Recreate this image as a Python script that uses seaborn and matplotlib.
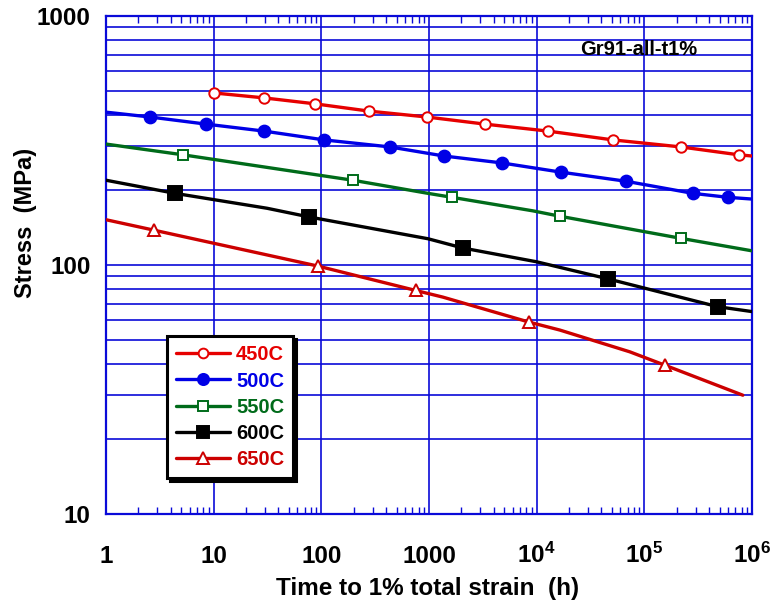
import matplotlib
matplotlib.use('Agg')
import matplotlib.pyplot as plt
from matplotlib.lines import Line2D
from matplotlib.ticker import FixedLocator, LogLocator, NullFormatter
import seaborn as sns

# ---------------- data ----------------
series_names = ['450C', '500C', '550C', '600C', '650C']
series_colors = ['#e60000', '#0000e6', '#006b1a', '#000000', '#cc0000']

# marker points (time h, stress MPa)
t450 = [10, 29.3, 87, 277, 955, 3300, 12700, 51000, 218000, 754000]
s450 = [491, 469, 444, 415, 393, 368, 345, 318, 298, 277]
t500 = [2.56, 8.48, 29.3, 106, 433, 1375, 4750, 16800, 67300, 282000, 596000]
s500 = [393, 368, 345, 318, 298, 274, 257, 236, 217, 194, 187]
t550 = [5.19, 196, 1633, 16400, 218000]
s550 = [277, 219, 187, 157, 128]
t600 = [4.37, 76.7, 2065, 45800, 481000]
s600 = [194, 156, 117, 88, 68]
t650 = [2.79, 93, 755, 8470, 155000]
s650 = [138, 99, 79, 59, 39.6]

# fitted curve points
curve450_t = [10, 29.3, 87, 277, 955, 3300, 12700, 51000, 218000, 754000, 1e6]
curve450_s = [491, 469, 444, 415, 393, 368, 345, 318, 298, 277, 274]
curve500_t = [1, 2.56, 8.48, 29.3, 106, 433, 1375, 4750, 16800, 67300, 282000, 596000, 1e6]
curve500_s = [411, 393, 368, 345, 318, 298, 274, 257, 236, 217, 194, 187, 184]
curve550_t = [1, 5.19, 196, 977, 1633, 9220, 16400, 218000, 1e6]
curve550_s = [306, 277, 219, 194, 187, 165, 157, 128, 114]
curve600_t = [1, 4.37, 31.3, 76.7, 977, 2065, 10000, 45800, 481000, 1e6]
curve600_s = [219, 194, 169, 156, 127.5, 117, 103, 88, 68, 65]
curve650_t = [1, 2.79, 93, 755, 1346, 8470, 16400, 73300, 155000, 822000]
curve650_s = [152, 138, 99, 79, 74.3, 59, 54.8, 44.8, 39.6, 30]

x_ticks = [1, 10, 100, 1000, 1e4, 1e5, 1e6]
x_ticklabels = ['1', '10', '100', '1000', r'$10^{4}$', r'$10^{5}$', r'$10^{6}$']
y_ticks = [10, 100, 1000]
y_ticklabels = ['10', '100', '1000']

# ---------------- style ----------------
sns.set_theme(style='white')
plt.rcParams['font.family'] = ['Liberation Sans', 'DejaVu Sans']
plt.rcParams['font.weight'] = 'bold'
plt.rcParams['mathtext.fontset'] = 'custom'
plt.rcParams['mathtext.rm'] = 'Liberation Sans:bold'
plt.rcParams['mathtext.it'] = 'Liberation Sans:bold'
plt.rcParams['mathtext.bf'] = 'Liberation Sans:bold'

GRID = '#0a0ad8'

fig = plt.figure(figsize=(7.79, 6.04), dpi=100)
ax = fig.add_axes([106 / 779, 90 / 604, 646 / 779, 498 / 604])
ax.set_xscale('log')
ax.set_yscale('log')
ax.set_xlim(1, 1e6)
ax.set_ylim(10, 1000)
ax.set_axisbelow(True)

markers = ['o', 'o', 's', 's', '^']
mfaces = ['none', None, 'none', None, 'none']
msizes = [7.5, 8.5, 7.5, 9.5, 8.5]

mk_t = [t450, t500, t550, t600, t650]
mk_s = [s450, s500, s550, s600, s650]
cv_t = [curve450_t, curve500_t, curve550_t, curve600_t, curve650_t]
cv_s = [curve450_s, curve500_s, curve550_s, curve600_s, curve650_s]

handles = []
for name, c, m, fc, ms, mt, ms_, ct, cs in zip(series_names, series_colors, markers,
                                              mfaces, msizes, mk_t, mk_s, cv_t, cv_s):
    sns.lineplot(x=ct, y=cs, ax=ax, color=c, linewidth=2.4, sort=False,
                 estimator=None, legend=False, zorder=3)
    face = c if fc is None else 'white'
    sns.lineplot(x=mt, y=ms_, ax=ax, color=c, linestyle='', marker=m,
                 markersize=ms, markerfacecolor=face, markeredgecolor=c,
                 markeredgewidth=1.4, sort=False, estimator=None, legend=False, zorder=4)
    handles.append(Line2D([], [], color=c, linewidth=2.4, marker=m, markersize=ms - 0.5,
                          markerfacecolor=face, markeredgecolor=c, markeredgewidth=1.4,
                          label=name))

# grid
ax.yaxis.set_minor_locator(LogLocator(base=10, subs=range(2, 10)))
ax.yaxis.set_minor_formatter(NullFormatter())
ax.xaxis.set_minor_locator(LogLocator(base=10, subs=range(2, 10)))
ax.xaxis.set_minor_formatter(NullFormatter())
ax.grid(True, which='major', axis='both', color=GRID, linewidth=1.2)
ax.grid(True, which='minor', axis='y', color=GRID, linewidth=1.2)
ax.grid(False, which='minor', axis='x')

for sp in ax.spines.values():
    sp.set_color(GRID)
    sp.set_linewidth(1.6)

ax.xaxis.set_major_locator(FixedLocator(x_ticks))
ax.set_xticklabels(x_ticklabels)
ax.yaxis.set_major_locator(FixedLocator(y_ticks))
ax.set_yticklabels(y_ticklabels)

ax.tick_params(axis='x', which='minor', direction='in', top=True, bottom=True,
               length=5, width=1, color=GRID)
ax.tick_params(axis='x', which='major', length=0, pad=35, labelsize=17.5, labelcolor='black')
ax.tick_params(axis='y', which='both', length=0)
ax.tick_params(axis='y', which='major', pad=11, labelsize=17.5, labelcolor='black')
for lbl in ax.get_xticklabels():
    lbl.set_verticalalignment('baseline')
    lbl.set_fontweight('bold')
for lbl in ax.get_yticklabels():
    lbl.set_fontweight('bold')

ax.set_xlabel('Time to 1% total strain  (h)', fontsize=17.5, fontweight='bold', color='black')
ax.xaxis.label.set_verticalalignment('baseline')
ax.xaxis.set_label_coords(0.4985, (514 - 595) / 498)
ax.set_ylabel('Stress  (MPa)', fontsize=17, fontweight='bold', color='black')
ax.yaxis.label.set_verticalalignment('center')
ax.yaxis.set_label_coords((25 - 106) / 646, 0.584)

ax.text(0.825, 0.932, 'Gr91-all-t1%', transform=ax.transAxes, ha='center', va='center',
        fontsize=14.5, fontweight='bold', color='black')

leg = ax.legend(handles=handles, loc='upper left', bbox_to_anchor=(0.094, 0.357),
                frameon=True, fancybox=False, framealpha=1, edgecolor='black',
                facecolor='white', shadow={'color': 'black', 'alpha': 1.0},
                prop={'size': 14.5, 'weight': 'bold'}, handlelength=2.7,
                handletextpad=0.3, labelspacing=0.36, borderpad=0.45,
                borderaxespad=0)
leg.get_frame().set_linewidth(2.2)
leg.set_zorder(10)
for txt, c in zip(leg.get_texts(), series_colors):
    txt.set_color(c)

fig.savefig('out.png', dpi=100)
